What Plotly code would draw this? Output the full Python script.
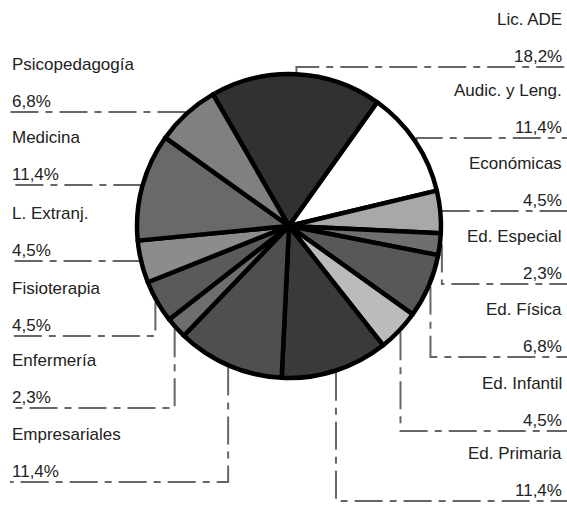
import math
import plotly.graph_objects as go

# ---- data ----
categories = ["Lic. ADE", "Audic. y Leng.", "Económicas", "Ed. Especial", "Ed. Física",
              "Ed. Infantil", "Ed. Primaria", "Empresariales", "Enfermería", "Fisioterapia",
              "L. Extranj.", "Medicina", "Psicopedagogía"]
values = [18.2, 11.4, 4.5, 2.3, 6.8, 4.5, 11.4, 11.4, 2.3, 4.5, 4.5, 11.4, 6.8]
pct_labels = ["18,2%", "11,4%", "4,5%", "2,3%", "6,8%", "4,5%", "11,4%",
              "11,4%", "2,3%", "4,5%", "4,5%", "11,4%", "6,8%"]
colors = ["#313131", "#ffffff", "#a8a8a8", "#6f6f6f", "#585858", "#bbbbbb", "#3a3a3a",
          "#4f4f4f", "#6e6e6e", "#5a5a5a", "#8c8c8c", "#696969", "#808080"]

# ---- layout constants (pixels) ----
W, H = 567, 505
CX, CY, R = 289, 226, 152
R_EDGE = 154
START_ANGLE = -30  # degrees from 12 o'clock, clockwise
right_rows = [67, 138, 211, 284, 357, 431, 501]        # leader line y for right labels
left_rows = [482, 408, 336, 261, 185, 112]             # for left labels (bottom -> top)
N_RIGHT = 7
TEXT_COLOR = "#222222"
LINE_COLOR = "#666666"
FONT = dict(family="Liberation Sans, Arial, sans-serif", size=17, color=TEXT_COLOR)

fig = go.Figure()

fig.add_trace(go.Pie(
    values=values, labels=categories, sort=False, direction="clockwise",
    rotation=START_ANGLE, textinfo="none", hoverinfo="none", showlegend=False,
    marker=dict(colors=colors, line=dict(color="#000000", width=4.5)),
    domain=dict(x=[(CX - R) / W, (CX + R) / W], y=[(H - CY - R) / H, (H - CY + R) / H]),
))

total = sum(values)
cum = 0.0
annotations = []
for i, (cat, v, pl) in enumerate(zip(categories, values, pct_labels)):
    mid = START_ANGLE + (cum + v / 2) / total * 360
    cum += v
    px = CX + R_EDGE * math.sin(math.radians(mid))
    py = CY - R_EDGE * math.cos(math.radians(mid))
    if i < N_RIGHT:
        ly = right_rows[i]
        xs, ys = [px, px, W], [py, ly, ly]
        tx, anchor = W - 3, "right"
    else:
        ly = left_rows[i - N_RIGHT]
        xs, ys = [px, px, 10], [py, ly, ly]
        tx, anchor = 10, "left"
    fig.add_trace(go.Scatter(x=xs, y=ys, mode="lines", hoverinfo="skip", showlegend=False,
                             line=dict(color=LINE_COLOR, width=2, dash="28px,7px,7px,7px")))
    annotations.append(dict(x=tx, y=ly - 48, text=cat, xref="x", yref="y", xanchor=anchor,
                            yanchor="middle", showarrow=False, font=FONT))
    annotations.append(dict(x=tx, y=ly - 11, text=pl, xref="x", yref="y", xanchor=anchor,
                            yanchor="middle", showarrow=False, font=FONT))

fig.update_layout(
    width=W, height=H, margin=dict(l=0, r=0, t=0, b=0),
    paper_bgcolor="white", plot_bgcolor="white",
    xaxis=dict(range=[0, W], visible=False, fixedrange=True),
    yaxis=dict(range=[H, 0], visible=False, fixedrange=True),
    annotations=annotations,
)

fig.write_html("out.html")
